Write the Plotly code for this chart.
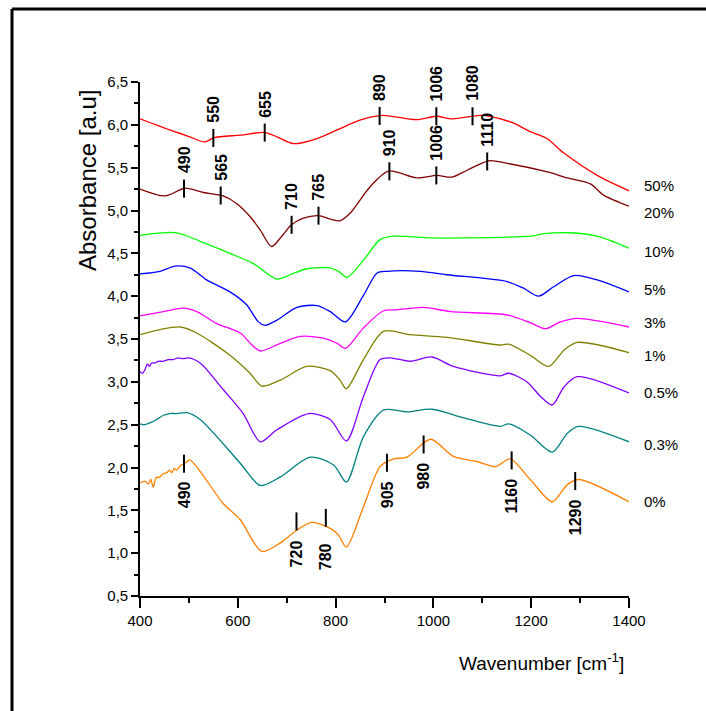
import numpy as np
import plotly.graph_objects as go

# ---- spectra: wavenumber (cm-1) / absorbance (a.u., offset) ----
wn_50 = [400, 461, 502, 533, 551, 605, 656, 680, 714, 762, 803, 843, 871, 898, 966,
         1006, 1038, 1095, 1116, 1164, 1198, 1232, 1267, 1335, 1400]
abs_50 = [6.07, 5.94, 5.86, 5.80, 5.85, 5.88, 5.91, 5.86, 5.78, 5.84, 5.94, 6.04, 6.09, 6.11, 6.06,
          6.10, 6.07, 6.11, 6.10, 6.02, 5.92, 5.84, 5.67, 5.41, 5.23]

wn_20 = [400, 451, 492, 530, 570, 598, 625, 646, 669, 690, 709, 734, 765, 789, 809, 830, 871,
         908, 966, 1007, 1038, 1069, 1113, 1151, 1233, 1274, 1321, 1348, 1400]
abs_20 = [5.25, 5.17, 5.26, 5.21, 5.17, 5.08, 4.93, 4.77, 4.58, 4.70, 4.83, 4.91, 4.94, 4.90, 4.88, 4.97, 5.28,
          5.46, 5.38, 5.41, 5.39, 5.47, 5.58, 5.55, 5.45, 5.38, 5.31, 5.18, 5.05]

wn_10 = [400, 475, 523, 584, 632, 680, 707, 741, 789, 806, 823, 857, 891, 919, 994, 1062,
         1198, 1226, 1280, 1335, 1400]
abs_10 = [4.71, 4.74, 4.64, 4.50, 4.38, 4.20, 4.25, 4.32, 4.33, 4.29, 4.22, 4.42, 4.66, 4.70, 4.68, 4.68,
          4.70, 4.73, 4.74, 4.70, 4.56]

wn_5 = [400, 441, 472, 502, 536, 584, 618, 642, 656, 680, 721, 762, 789, 820, 857, 885, 905,
        973, 1028, 1151, 1185, 1215, 1246, 1287, 1335, 1400]
abs_5 = [4.26, 4.29, 4.35, 4.33, 4.19, 4.05, 3.90, 3.70, 3.66, 3.72, 3.87, 3.89, 3.82, 3.70, 4.01, 4.27, 4.29,
         4.29, 4.25, 4.17, 4.09, 4.00, 4.11, 4.24, 4.19, 4.05]

wn_3 = [400, 448, 489, 516, 557, 605, 629, 646, 687, 728, 775, 803, 820, 857, 898, 925, 980,
        1035, 1151, 1198, 1229, 1260, 1294, 1400]
abs_3 = [3.77, 3.82, 3.86, 3.82, 3.68, 3.57, 3.43, 3.36, 3.45, 3.53, 3.51, 3.45, 3.39, 3.63, 3.83, 3.84, 3.87,
         3.82, 3.78, 3.69, 3.62, 3.70, 3.74, 3.64]

wn_1 = [400, 441, 482, 516, 584, 625, 649, 687, 741, 789, 809, 822, 857, 898, 953, 1028,
        1137, 1154, 1198, 1236, 1267, 1294, 1400]
abs_1 = [3.55, 3.61, 3.64, 3.57, 3.31, 3.10, 2.95, 3.02, 3.18, 3.13, 3.02, 2.92, 3.26, 3.59, 3.55, 3.52,
         3.43, 3.44, 3.31, 3.18, 3.37, 3.46, 3.34]

wn_05 = [400, 405, 410, 415, 419, 424, 431, 437, 448, 458, 468, 478, 489, 499, 523, 570, 611, 646,
         680, 745, 789, 822, 857, 891, 912, 953, 997, 1041, 1137, 1154, 1191, 1219, 1243, 1267,
         1294, 1400]
abs_05 = [3.12, 3.10, 3.14, 3.21, 3.18, 3.22, 3.22, 3.24, 3.24, 3.26, 3.26, 3.28, 3.27, 3.28, 3.22, 2.91, 2.63, 2.30,
          2.44, 2.63, 2.56, 2.31, 2.83, 3.26, 3.28, 3.24, 3.29, 3.18, 3.07, 3.10, 3.00, 2.83, 2.73, 2.94,
          3.06, 2.87]

wn_03 = [400, 410, 420, 434, 448, 461, 475, 496, 523, 605, 646, 687, 748, 796, 822, 857, 898,
         946, 997, 1062, 1137, 1154, 1198, 1243, 1274, 1297, 1400]
abs_03 = [2.51, 2.50, 2.52, 2.56, 2.61, 2.63, 2.63, 2.64, 2.56, 2.05, 1.79, 1.89, 2.12, 2.03, 1.83, 2.36, 2.67,
          2.65, 2.68, 2.58, 2.48, 2.51, 2.38, 2.18, 2.40, 2.48, 2.30]

wn_0 = [400, 410, 417, 422, 427, 433, 441, 448, 455, 460, 465, 470, 475, 482, 489, 496, 502,
        530, 570, 605, 649, 687, 721, 751, 789, 806, 822, 857, 891, 919, 946, 994, 1041, 1089,
        1127, 1157, 1198, 1243, 1274, 1297, 1400]
abs_0 = [1.82, 1.84, 1.81, 1.86, 1.77, 1.88, 1.89, 1.93, 1.94, 1.97, 1.94, 1.99, 1.97, 2.02, 2.04, 2.07, 2.09,
         1.90, 1.58, 1.39, 1.02, 1.12, 1.27, 1.36, 1.29, 1.21, 1.07, 1.54, 2.01, 2.10, 2.12, 2.33, 2.13, 2.07,
         2.01, 2.10, 1.86, 1.60, 1.80, 1.86, 1.60]

series_labels = ["50%", "20%", "10%", "5%", "3%", "1%", "0.5%", "0.3%", "0%"]
series_wn = [wn_50, wn_20, wn_10, wn_5, wn_3, wn_1, wn_05, wn_03, wn_0]
series_abs = [abs_50, abs_20, abs_10, abs_5, abs_3, abs_1, abs_05, abs_03, abs_0]

# assigned band positions (cm-1) per spectrum
peaks_50 = [550, 655, 890, 1006, 1080]
peaks_20 = [490, 565, 710, 765, 910, 1006, 1110]
peaks_0 = [490, 720, 780, 905, 980, 1160, 1290]

y_ticks = [0.5, 1.0, 1.5, 2.0, 2.5, 3.0, 3.5, 4.0, 4.5, 5.0, 5.5, 6.0, 6.5]
y_ticktext = ["0,5", "1,0", "1,5", "2,0", "2,5", "3,0", "3,5", "4,0", "4,5", "5,0", "5,5", "6,0", "6,5"]
x_ticks = [400, 600, 800, 1000, 1200, 1400]

# ---- styling ----
colors = ["#FF0000", "#800000", "#00FF00", "#0000FF", "#FF00FF",
          "#808000", "#8000FF", "#008080", "#FF8000"]
label_shift = [5, -6, -3, 2, 5, -3, 0, -3, 0]

W, H = 706, 711
M_L, M_R, M_T, M_B = 140, 77, 82, 115
plot_w = W - M_L - M_R
plot_h = H - M_T - M_B
X_RANGE = (400, 1400)
Y_RANGE = (0.5, 6.5)
unit_per_px = (Y_RANGE[1] - Y_RANGE[0]) / plot_h

FONT = "Liberation Sans, Arial, sans-serif"

fig = go.Figure()
for lab, xs, ys, col in zip(series_labels, series_wn, series_abs, colors):
    fig.add_trace(go.Scatter(x=xs, y=ys, mode="lines", name=lab,
                             line=dict(color=col, width=1.3, shape="spline", smoothing=0.8),
                             showlegend=False, hoverinfo="skip"))

annotations = []
shapes = []

# series labels to the right of each curve end
label_x_paper = (642 - M_L) / plot_w
for lab, ys, sh in zip(series_labels, series_abs, label_shift):
    y_paper = (ys[-1] - Y_RANGE[0]) / (Y_RANGE[1] - Y_RANGE[0])
    annotations.append(dict(x=label_x_paper, y=y_paper, xref="paper", yref="paper", text=lab,
                            showarrow=False, xanchor="left", yanchor="middle", yshift=sh,
                            font=dict(family=FONT, size=15, color="black")))


def curve_at(xs, ys, w):
    return float(np.interp(w, xs, ys))


half = 9 * unit_per_px
peak_font = dict(family=FONT, size=16, color="black")


def mark_above(xs, ys, w):
    v = curve_at(xs, ys, w)
    shapes.append(dict(type="line", xref="x", yref="y", x0=w, x1=w, y0=v - half, y1=v + half,
                       line=dict(color="black", width=2)))
    annotations.append(dict(x=w, y=v, xref="x", yref="y", text=f"<b>{w}</b>", showarrow=False,
                            textangle=-90, xanchor="center", yanchor="bottom", yshift=13,
                            font=peak_font))


def mark_below(xs, ys, w, tick_up=False, gap=16):
    v = curve_at(xs, ys, w)
    if tick_up:
        y0, y1 = v, v + 2 * half
    else:
        y0, y1 = v - half, v + half
    shapes.append(dict(type="line", xref="x", yref="y", x0=w, x1=w, y0=y0, y1=y1,
                       line=dict(color="black", width=2)))
    annotations.append(dict(x=w, y=v, xref="x", yref="y", text=f"<b>{w}</b>", showarrow=False,
                            textangle=-90, xanchor="center", yanchor="top", yshift=-gap,
                            font=peak_font))


for w in peaks_50:
    mark_above(wn_50, abs_50, w)
for w in peaks_20:
    mark_above(wn_20, abs_20, w)
for w in peaks_0:
    if w in (720, 780):
        mark_below(wn_0, abs_0, w, tick_up=True, gap=8 if w == 720 else 14)
    else:
        mark_below(wn_0, abs_0, w)

# axis titles
annotations.append(dict(x=(87 - M_L) / plot_w, y=(H - M_B - 181) / plot_h, xref="paper", yref="paper",
                        text="Absorbance [a.u]", showarrow=False, textangle=-90,
                        xanchor="center", yanchor="middle",
                        font=dict(family=FONT, size=24, color="black")))
annotations.append(dict(x=(541 - M_L) / plot_w, y=(H - M_B - 662) / plot_h, xref="paper", yref="paper",
                        text="Wavenumber [cm<sup>-1</sup>]", showarrow=False,
                        xanchor="center", yanchor="middle",
                        font=dict(family=FONT, size=19, color="black")))

# outer frame (top and left edges)
fx0 = (12 - M_L) / plot_w
fy0 = (H - M_B - 9) / plot_h
shapes.append(dict(type="line", xref="paper", yref="paper", x0=fx0, x1=1.3, y0=fy0, y1=fy0,
                   line=dict(color="black", width=3)))
shapes.append(dict(type="line", xref="paper", yref="paper", x0=fx0, x1=fx0, y0=fy0, y1=-0.4,
                   line=dict(color="black", width=3)))

fig.update_layout(
    width=W, height=H, autosize=False,
    margin=dict(l=M_L, r=M_R, t=M_T, b=M_B, pad=0),
    paper_bgcolor="white", plot_bgcolor="white",
    annotations=annotations, shapes=shapes,
    xaxis=dict(range=list(X_RANGE), tickvals=x_ticks, ticks="outside", ticklen=10, tickwidth=1.5,
               tickcolor="black", showline=True, linecolor="black", linewidth=1.6,
               showgrid=False, zeroline=False,
               minor=dict(dtick=100, tick0=400, ticks="outside", ticklen=5, tickwidth=1.5,
                          tickcolor="black", showgrid=False),
               tickfont=dict(family=FONT, size=15, color="black")),
    yaxis=dict(range=list(Y_RANGE), tickvals=y_ticks, ticktext=y_ticktext, ticks="outside",
               ticklen=7, tickwidth=1.5, tickcolor="black", showline=True, linecolor="black",
               linewidth=1.6, showgrid=False, zeroline=False,
               minor=dict(dtick=0.25, tick0=0.5, ticks="outside", ticklen=4, tickwidth=1.5,
                          tickcolor="black", showgrid=False),
               tickfont=dict(family=FONT, size=15, color="black")),
)

fig.write_html("out.html")
